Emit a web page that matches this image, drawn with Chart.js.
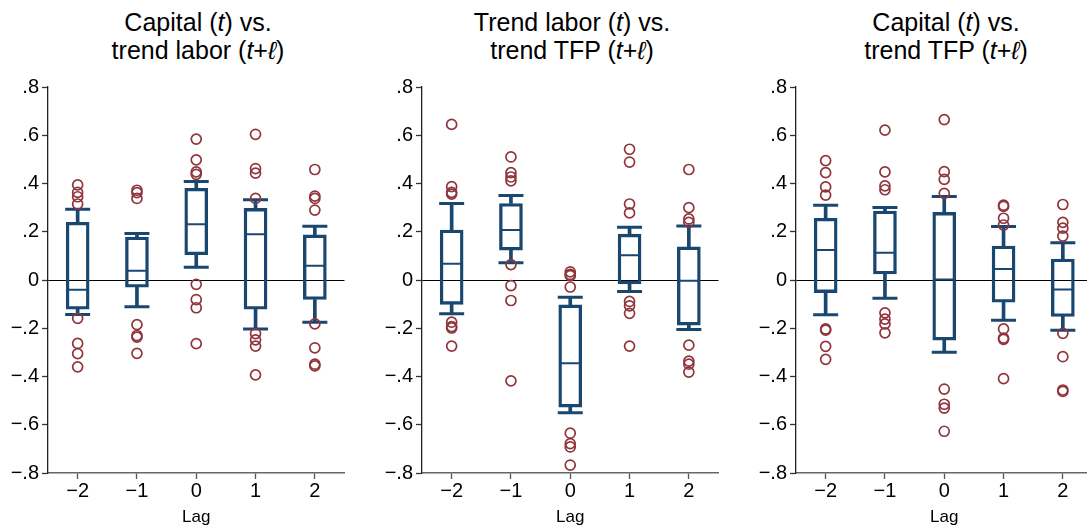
<!DOCTYPE html>
<html>
<head>
<meta charset="utf-8">
<script src="https://cdn.jsdelivr.net/npm/chart.js@4"></script>
<style>
  body { margin: 0; width: 1087px; height: 531px; overflow: hidden; background: #fff; position: relative; }
  .panel { position: absolute; top: 0; width: 360px; height: 531px; }
  .panel canvas { position: absolute; left: 0; top: 0; }
  .title {
    position: absolute; left: 48px; top: 8px; width: 300px;
    text-align: center; font: 25px "Liberation Sans", Arial, sans-serif;
    line-height: 28px; color: #000; white-space: nowrap;
  }
</style>
</head>
<body>

<div class="panel" style="left:0px">
  <div class="title">Capital (<i>t</i>) vs.<br>trend labor (<i>t</i>+<i>ℓ</i>)</div>
  <canvas id="chart0" width="360" height="531"></canvas>
</div>
<div class="panel" style="left:374px">
  <div class="title">Trend labor (<i>t</i>) vs.<br>trend TFP (<i>t</i>+<i>ℓ</i>)</div>
  <canvas id="chart1" width="360" height="531"></canvas>
</div>
<div class="panel" style="left:748px">
  <div class="title">Capital (<i>t</i>) vs.<br>trend TFP (<i>t</i>+<i>ℓ</i>)</div>
  <canvas id="chart2" width="360" height="531"></canvas>
</div>

<script>
const lags = ['−2', '−1', '0', '1', '2'];
const yTicks = [-0.8, -0.6, -0.4, -0.2, 0, 0.2, 0.4, 0.6, 0.8];

// capital (t) vs. trend labor (t+l)
const capLabLo  = [-0.143, -0.111, 0.053, -0.203, -0.175];
const capLabQ1  = [-0.121, -0.030, 0.105, -0.121, -0.081];
const capLabMed = [-0.040, 0.038, 0.231, 0.190, 0.059];
const capLabQ3  = [0.239, 0.178, 0.380, 0.297, 0.187];
const capLabHi  = [0.293, 0.193, 0.408, 0.333, 0.223];
const capLabOut = [
  [0.394, 0.363, 0.345, 0.315, -0.159, -0.263, -0.305, -0.360],
  [0.372, 0.362, 0.338, -0.185, -0.230, -0.237, -0.304],
  [0.584, 0.498, 0.448, 0.438, -0.018, -0.081, -0.115, -0.264],
  [0.604, 0.462, 0.443, 0.338, -0.222, -0.248, -0.274, -0.393],
  [0.458, 0.348, 0.338, 0.290, -0.182, -0.281, -0.349, -0.356]
];

// trend labor (t) vs. trend TFP (t+l)
const labTfpLo  = [-0.140, 0.072, -0.550, -0.048, -0.205];
const labTfpQ1  = [-0.101, 0.124, -0.527, -0.016, -0.187];
const labTfpMed = [0.067, 0.207, -0.345, 0.103, -0.003];
const labTfpQ3  = [0.207, 0.317, -0.103, 0.190, 0.137];
const labTfpHi  = [0.317, 0.350, -0.071, 0.219, 0.224];
const labTfpOut = [
  [0.645, 0.387, 0.363, 0.356, -0.175, -0.193, -0.199, -0.274],
  [0.510, 0.445, 0.427, 0.411, 0.064, -0.023, -0.085, -0.418],
  [0.034, 0.023, 0.018, -0.029, -0.635, -0.678, -0.692, -0.767],
  [0.542, 0.489, 0.315, 0.278, -0.089, -0.107, -0.138, -0.274],
  [0.458, 0.300, 0.253, 0.239, -0.270, -0.336, -0.349, -0.382]
];

// capital (t) vs. trend TFP (t+l)
const capTfpLo  = [-0.144, -0.076, -0.299, -0.167, -0.208];
const capTfpQ1  = [-0.052, 0.025, -0.249, -0.092, -0.151];
const capTfpMed = [0.124, 0.113, 0.002, 0.046, -0.039];
const capTfpQ3  = [0.256, 0.286, 0.280, 0.141, 0.087];
const capTfpHi  = [0.310, 0.301, 0.346, 0.222, 0.154];
const capTfpOut = [
  [0.495, 0.445, 0.386, 0.352, -0.203, -0.208, -0.275, -0.329],
  [0.621, 0.448, 0.390, 0.374, -0.136, -0.162, -0.182, -0.219],
  [0.665, 0.449, 0.417, 0.359, -0.452, -0.515, -0.531, -0.627],
  [0.310, 0.305, 0.256, 0.228, -0.203, -0.241, -0.246, -0.409],
  [0.313, 0.239, 0.215, 0.182, -0.221, -0.318, -0.456, -0.462]
];

const NAVY = '#1a476f';
const MAROON = '#90353b';

Chart.defaults.font.family = '"Liberation Sans", Arial, sans-serif';
Chart.defaults.color = '#000';

function fmtTick(v) {
  if (Math.abs(v) < 1e-9) return '0';
  const s = Math.abs(v).toFixed(1).replace(/^0/, '');
  return (v < 0 ? '−' : '') + s;
}

function boxChart(id, lo, q1, med, q3, hi, out) {
  const pairs = (a, b) => a.map((v, i) => [v, b[i]]);
  const outPts = out.flatMap((vals, i) => vals.map(v => ({ x: lags[i], y: v })));

  const datasets = [
    // outside values
    { type: 'line', data: outPts, showLine: false, pointStyle: 'circle', pointRadius: 5,
      pointBorderWidth: 1.7, pointBorderColor: MAROON, pointBackgroundColor: 'rgba(0,0,0,0)', order: 0 },
    // median and whisker caps
    { type: 'line', data: med, showLine: false, pointStyle: 'line', pointRadius: 10.5,
      pointBorderWidth: 2, pointBorderColor: NAVY, order: 1 },
    { type: 'line', data: hi, showLine: false, pointStyle: 'line', pointRadius: 12.5,
      pointBorderWidth: 3, pointBorderColor: NAVY, order: 1 },
    { type: 'line', data: lo, showLine: false, pointStyle: 'line', pointRadius: 12.5,
      pointBorderWidth: 3, pointBorderColor: NAVY, order: 1 },
    // box q1..q3
    { type: 'bar', data: pairs(q1, q3), grouped: false, barThickness: 23,
      backgroundColor: 'rgba(0,0,0,0)', borderColor: NAVY, borderWidth: 2.7, borderSkipped: false, order: 2 },
    // whisker stems
    { type: 'bar', data: pairs(q3, hi), grouped: false, barThickness: 3,
      backgroundColor: NAVY, borderWidth: 0, order: 3 },
    { type: 'bar', data: pairs(lo, q1), grouped: false, barThickness: 3,
      backgroundColor: NAVY, borderWidth: 0, order: 3 }
  ];

  new Chart(document.getElementById(id), {
    type: 'bar',
    data: { labels: lags, datasets: datasets },
    options: {
      responsive: false,
      animation: false,
      layout: { padding: { top: 87, right: 12, bottom: 0, left: 0 } },
      plugins: { legend: { display: false }, tooltip: { enabled: false } },
      scales: {
        x: {
          type: 'category',
          offset: true,
          afterFit: s => { s.height = 58; },
          border: { display: true, color: '#666', width: 1.5 },
          grid: { offset: false, drawOnChartArea: false, tickLength: 6, tickColor: '#555', tickWidth: 1.3 },
          ticks: { font: { size: 20 }, padding: 0, color: '#000' },
          title: { display: true, text: 'Lag', font: { size: 17 }, padding: { top: 0, bottom: 3 }, color: '#000' }
        },
        y: {
          min: -0.8,
          max: 0.8,
          afterFit: s => { s.width = 48; },
          afterBuildTicks: s => { s.ticks = yTicks.map(v => ({ value: v })); },
          border: { display: true, color: '#222', width: 1.3 },
          grid: {
            color: c => (c.tick && Math.abs(c.tick.value) < 1e-9 ? '#000' : 'rgba(0,0,0,0)'),
            lineWidth: 1,
            tickLength: 6,
            tickColor: '#333',
            tickWidth: 1.3
          },
          ticks: { font: { size: 20 }, padding: 3, color: '#000', callback: v => fmtTick(v) }
        }
      }
    }
  });
}

boxChart('chart0', capLabLo, capLabQ1, capLabMed, capLabQ3, capLabHi, capLabOut);
boxChart('chart1', labTfpLo, labTfpQ1, labTfpMed, labTfpQ3, labTfpHi, labTfpOut);
boxChart('chart2', capTfpLo, capTfpQ1, capTfpMed, capTfpQ3, capTfpHi, capTfpOut);
</script>
</body>
</html>
